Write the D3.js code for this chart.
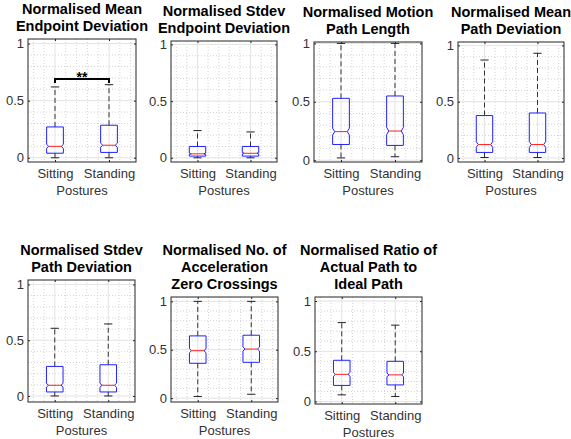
<!DOCTYPE html>
<html>
<head>
<meta charset="utf-8">
<script src="https://cdn.jsdelivr.net/npm/d3@7"></script>
<style>
  body { margin: 0; background: #fff; }
  svg { font-family: 'Liberation Sans', Arial, sans-serif; }
</style>
</head>
<body>
<div id="graf"></div>
<script>
// Datos
categorias = ['Sitting', 'Standing']

titulos = [
  ['Normalised Mean', 'Endpoint Deviation'],
  ['Normalised Stdev', 'Endpoint Deviation'],
  ['Normalised Motion', 'Path Length'],
  ['Normalised Mean', 'Path Deviation'],
  ['Normalised Stdev', 'Path Deviation'],
  ['Normalised No. of', 'Acceleration', 'Zero Crossings'],
  ['Normalised Ratio of', 'Actual Path to', 'Ideal Path']
]

// [bigote inferior, Q1, mediana, Q3, bigote superior] por panel
sitting = [
  [0.00, 0.040, 0.100, 0.270, 0.620],
  [0.00, 0.015, 0.035, 0.100, 0.240],
  [0.02, 0.135, 0.245, 0.530, 1.000],
  [0.005, 0.050, 0.120, 0.377, 0.870],
  [0.00, 0.036, 0.096, 0.265, 0.607],
  [0.017, 0.360, 0.490, 0.643, 1.000],
  [0.066, 0.160, 0.270, 0.410, 0.785]
]
standing = [
  [0.00, 0.047, 0.110, 0.285, 0.640],
  [0.00, 0.015, 0.040, 0.100, 0.228],
  [0.03, 0.127, 0.250, 0.550, 1.000],
  [0.005, 0.050, 0.120, 0.400, 0.930],
  [0.00, 0.036, 0.096, 0.280, 0.646],
  [0.040, 0.370, 0.507, 0.650, 1.000],
  [0.050, 0.165, 0.265, 0.400, 0.760]
]

// Barra de significancia (solo panel 1)
sigPanel = [0]
sigAltura = [0.69]
sigTexto = ['**']

yTicks = [0, 0.5, 1]
yTickTexto = ['0', '0.5', '1']
etiquetaX = 'Postures'

// Posicion de cada eje en pixeles y limites Y de cada panel
paneles = [
  { x0: 28,  x1: 136, y0: 39,  y1: 162, ymin: -0.037, ymax: 1.04 },
  { x0: 171, x1: 277, y0: 41,  y1: 162, ymin: -0.037, ymax: 1.03 },
  { x0: 314, x1: 422, y0: 42,  y1: 162, ymin: -0.015, ymax: 1.012 },
  { x0: 458, x1: 564, y0: 42,  y1: 162, ymin: -0.035, ymax: 1.03 },
  { x0: 28,  x1: 135, y0: 280, y1: 402, ymin: -0.054, ymax: 1.04 },
  { x0: 171, x1: 278, y0: 297, y1: 402, ymin: -0.04,  ymax: 1.045 },
  { x0: 315, x1: 422, y0: 297, y1: 404, ymin: -0.025, ymax: 1.04 }
]

anchoCaja = 0.31   // en unidades del eje X
nMuestras = 450    // para el alto de la muesca

svg = d3.select('#graf').append('svg')
        .attr('width', 571)
        .attr('height', 439)

paneles.forEach((p, i) => {
  g = svg.append('g')
  x = d3.scaleLinear().domain([0.5, 2.5]).range([p.x0, p.x1])
  y = d3.scaleLinear().domain([p.ymin, p.ymax]).range([p.y1, p.y0])

  // Rejilla menor punteada
  menoresY = d3.range(1, 11).map(d => d / 10).filter(d => d !== 0.5 && d !== 1)
  menoresX = [0.6, 0.8, 1.2, 1.4, 1.6, 1.8, 2.2, 2.4]
  g.selectAll('.minY').data(menoresY).enter().append('line')
   .attr('x1', p.x0).attr('x2', p.x1)
   .attr('y1', d => y(d)).attr('y2', d => y(d))
   .attr('stroke', '#d4d4d4').attr('stroke-dasharray', '1,2')
  g.selectAll('.minX').data(menoresX).enter().append('line')
   .attr('y1', p.y0).attr('y2', p.y1)
   .attr('x1', d => x(d)).attr('x2', d => x(d))
   .attr('stroke', '#d4d4d4').attr('stroke-dasharray', '1,2')

  // Rejilla mayor
  g.selectAll('.majY').data(yTicks).enter().append('line')
   .attr('x1', p.x0).attr('x2', p.x1)
   .attr('y1', d => y(d)).attr('y2', d => y(d))
   .attr('stroke', '#e3e3e3')
  g.selectAll('.majX').data([1, 2]).enter().append('line')
   .attr('y1', p.y0).attr('y2', p.y1)
   .attr('x1', d => x(d)).attr('x2', d => x(d))
   .attr('stroke', '#e3e3e3')

  // Cajas con muesca
  cajas = [sitting[i], standing[i]]
  cajas.forEach((s, j) => {
    c = j + 1
    lo = s[0], q1 = s[1], med = s[2], q3 = s[3], hi = s[4]
    xl = x(c - anchoCaja / 2), xr = x(c + anchoCaja / 2)
    xc = x(c)
    hw = (xr - xl) / 2
    ins = hw * 0.25
    muesca = 1.57 * (q3 - q1) / Math.sqrt(nMuestras)
    capW = hw / 2

    // bigotes discontinuos
    g.append('line').attr('x1', xc).attr('x2', xc)
     .attr('y1', y(q3)).attr('y2', y(hi))
     .attr('stroke', '#333').attr('stroke-dasharray', '5,3')
    g.append('line').attr('x1', xc).attr('x2', xc)
     .attr('y1', y(q1)).attr('y2', y(lo))
     .attr('stroke', '#333').attr('stroke-dasharray', '5,3')
    // topes
    ;[lo, hi].forEach(v => {
      g.append('line').attr('x1', xc - capW).attr('x2', xc + capW)
       .attr('y1', y(v)).attr('y2', y(v))
       .attr('stroke', '#222')
    })

    puntos = [
      [xl, y(q3)], [xr, y(q3)], [xr, y(med + muesca)], [xr - ins, y(med)],
      [xr, y(med - muesca)], [xr, y(q1)], [xl, y(q1)], [xl, y(med - muesca)],
      [xl + ins, y(med)], [xl, y(med + muesca)]
    ]
    g.append('path')
     .attr('d', 'M' + puntos.map(pt => pt.join(',')).join('L') + 'Z')
     .attr('fill', 'none').attr('stroke', '#2020ff')
    g.append('line').attr('x1', xl + ins).attr('x2', xr - ins)
     .attr('y1', y(med)).attr('y2', y(med))
     .attr('stroke', '#ff2020')
  })

  // Marco del eje
  g.append('rect')
   .attr('x', p.x0).attr('y', p.y0)
   .attr('width', p.x1 - p.x0).attr('height', p.y1 - p.y0)
   .attr('fill', 'none').attr('stroke', '#262626')

  // Ejes
  yAxisCall = d3.axisLeft(y).tickValues(yTicks)
                .tickFormat((d, k) => yTickTexto[k])
                .tickSizeInner(-2).tickSizeOuter(0).tickPadding(4)
  ejeY = g.append('g').attr('transform', `translate(${p.x0},0)`).call(yAxisCall)
  yAxisDer = d3.axisRight(y).tickValues(yTicks).tickFormat('')
               .tickSizeInner(-2).tickSizeOuter(0)
  ejeYD = g.append('g').attr('transform', `translate(${p.x1},0)`).call(yAxisDer)

  xAxisCall = d3.axisBottom(x).tickValues([1, 2])
                .tickFormat((d, k) => categorias[k])
                .tickSizeInner(-2).tickSizeOuter(0).tickPadding(7)
  ejeX = g.append('g').attr('transform', `translate(0,${p.y1})`).call(xAxisCall)
  xAxisTop = d3.axisTop(x).tickValues([1, 2]).tickFormat('')
               .tickSizeInner(-2).tickSizeOuter(0)
  ejeXT = g.append('g').attr('transform', `translate(0,${p.y0})`).call(xAxisTop)

  ;[ejeY, ejeYD, ejeX, ejeXT].forEach(e => {
    e.select('.domain').remove()
    e.selectAll('line').attr('stroke', '#262626')
    e.selectAll('text').attr('fill', '#333')
     .style('font-size', '13px')
     .style('font-family', "'Liberation Sans', Arial, sans-serif")
  })

  // Etiqueta X
  g.append('text')
   .attr('x', (p.x0 + p.x1) / 2).attr('y', p.y1 + 32.5)
   .attr('text-anchor', 'middle')
   .attr('fill', '#333').style('font-size', '13px')
   .text(etiquetaX)

  // Titulo en varias lineas
  lineas = titulos[i]
  lineas.forEach((t, k) => {
    g.append('text')
     .attr('x', (p.x0 + p.x1) / 2)
     .attr('y', p.y0 - 8 - (lineas.length - 1 - k) * 17)
     .attr('text-anchor', 'middle')
     .style('font-size', '14.5px').style('font-weight', 'bold')
     .attr('fill', '#000')
     .text(t)
  })

  // Significancia
  sigPanel.forEach((sp, k) => {
    if (sp !== i) return
    yb = y(sigAltura[k])
    g.append('path')
     .attr('d', `M${x(1)},${yb + 4}L${x(1)},${yb}L${x(2)},${yb}L${x(2)},${yb + 4}`)
     .attr('fill', 'none').attr('stroke', '#000').attr('stroke-width', 2)
    g.append('text')
     .attr('x', (x(1) + x(2)) / 2).attr('y', yb + 3)
     .attr('text-anchor', 'middle')
     .style('font-size', '14px').style('font-weight', 'bold')
     .text(sigTexto[k])
  })
})
</script>
</body>
</html>
